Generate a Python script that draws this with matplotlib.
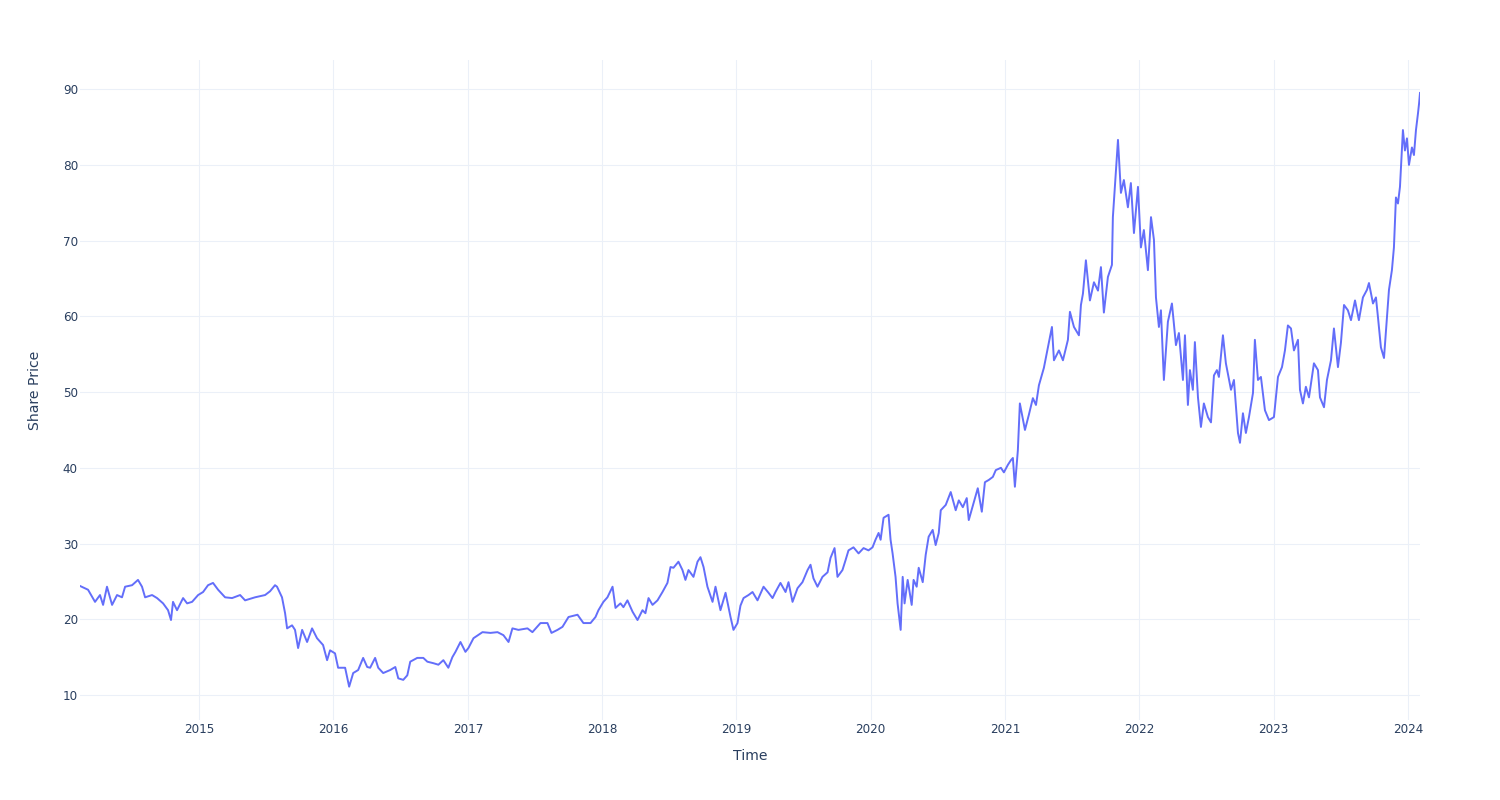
import matplotlib
matplotlib.use("Agg")
import matplotlib.pyplot as plt
import pandas as pd
import numpy as np

# Dates as decimal years, values = share price
decimal_years = [
    2014.113, 2014.173, 2014.225, 2014.262, 2014.285, 2014.314, 2014.352, 2014.389, 2014.426, 2014.449,
    2014.501, 2014.545, 2014.575, 2014.598, 2014.650, 2014.687, 2014.732, 2014.769, 2014.791, 2014.806,
    2014.836, 2014.881, 2014.911, 2014.948, 2014.993, 2015.030, 2015.067, 2015.104, 2015.142, 2015.194,
    2015.246, 2015.306, 2015.343, 2015.417, 2015.492, 2015.529, 2015.566, 2015.581, 2015.618, 2015.641,
    2015.656, 2015.693, 2015.715, 2015.738, 2015.768, 2015.805, 2015.842, 2015.879, 2015.924, 2015.954,
    2015.976, 2016.013, 2016.036, 2016.088, 2016.118, 2016.148, 2016.185, 2016.222, 2016.252, 2016.274,
    2016.311, 2016.334, 2016.371, 2016.423, 2016.461, 2016.483, 2016.520, 2016.550, 2016.572, 2016.624,
    2016.669, 2016.699, 2016.744, 2016.781, 2016.818, 2016.855, 2016.885, 2016.908, 2016.945, 2016.982,
    2017.004, 2017.042, 2017.109, 2017.168, 2017.221, 2017.265, 2017.303, 2017.332, 2017.377, 2017.444,
    2017.481, 2017.541, 2017.593, 2017.623, 2017.668, 2017.705, 2017.750, 2017.817, 2017.861, 2017.914,
    2017.951, 2017.973, 2018.010, 2018.040, 2018.078, 2018.100, 2018.137, 2018.159, 2018.189, 2018.227,
    2018.264, 2018.301, 2018.323, 2018.346, 2018.376, 2018.413, 2018.450, 2018.487, 2018.510, 2018.532,
    2018.569, 2018.599, 2018.621, 2018.644, 2018.681, 2018.711, 2018.733, 2018.756, 2018.785, 2018.823,
    2018.845, 2018.882, 2018.920, 2018.957, 2018.979, 2019.009, 2019.031, 2019.054, 2019.091, 2019.121,
    2019.158, 2019.203, 2019.240, 2019.270, 2019.292, 2019.329, 2019.367, 2019.389, 2019.419, 2019.456,
    2019.493, 2019.531, 2019.553, 2019.575, 2019.605, 2019.642, 2019.680, 2019.702, 2019.732, 2019.754,
    2019.791, 2019.814, 2019.836, 2019.873, 2019.911, 2019.948, 2019.985, 2020.015, 2020.037, 2020.060,
    2020.075, 2020.097, 2020.134, 2020.149, 2020.164, 2020.186, 2020.201, 2020.224, 2020.239, 2020.253,
    2020.276, 2020.306, 2020.320, 2020.343, 2020.358, 2020.388, 2020.410, 2020.432, 2020.462, 2020.484,
    2020.507, 2020.522, 2020.559, 2020.596, 2020.633, 2020.656, 2020.686, 2020.715, 2020.730, 2020.768,
    2020.797, 2020.827, 2020.850, 2020.879, 2020.909, 2020.931, 2020.969, 2020.991, 2021.021, 2021.043,
    2021.058, 2021.073, 2021.095, 2021.110, 2021.148, 2021.177, 2021.207, 2021.230, 2021.252, 2021.289,
    2021.319, 2021.349, 2021.364, 2021.401, 2021.431, 2021.468, 2021.483, 2021.513, 2021.550, 2021.565,
    2021.580, 2021.602, 2021.632, 2021.662, 2021.692, 2021.714, 2021.736, 2021.766, 2021.796, 2021.803,
    2021.826, 2021.841, 2021.863, 2021.885, 2021.915, 2021.937, 2021.960, 2021.990, 2022.012, 2022.034,
    2022.064, 2022.087, 2022.109, 2022.124, 2022.146, 2022.161, 2022.183, 2022.213, 2022.243, 2022.273,
    2022.295, 2022.325, 2022.340, 2022.362, 2022.377, 2022.399, 2022.414, 2022.437, 2022.459, 2022.481,
    2022.511, 2022.534, 2022.556, 2022.578, 2022.593, 2022.623, 2022.645, 2022.683, 2022.705, 2022.735,
    2022.750, 2022.772, 2022.794, 2022.817, 2022.847, 2022.861, 2022.884, 2022.906, 2022.936, 2022.966,
    2023.003, 2023.033, 2023.063, 2023.085, 2023.107, 2023.130, 2023.152, 2023.182, 2023.197, 2023.219,
    2023.241, 2023.264, 2023.301, 2023.331, 2023.346, 2023.376, 2023.398, 2023.428, 2023.450, 2023.480,
    2023.502, 2023.525, 2023.554, 2023.577, 2023.607, 2023.636, 2023.666, 2023.696, 2023.711, 2023.741,
    2023.763, 2023.778, 2023.800, 2023.823, 2023.845, 2023.860, 2023.882, 2023.897, 2023.912, 2023.927,
    2023.942, 2023.957, 2023.964, 2023.979, 2023.994, 2024.009, 2024.031, 2024.046, 2024.061, 2024.076,
    2024.084, 2024.091,
]

share_price = [
    24.4, 23.9, 22.3, 23.2, 21.9, 24.3, 21.9, 23.2, 22.9, 24.3,
    24.5, 25.2, 24.3, 22.9, 23.2, 22.8, 22.1, 21.2, 19.9, 22.3,
    21.2, 22.8, 22.1, 22.3, 23.2, 23.6, 24.5, 24.8, 23.9, 22.9,
    22.8, 23.2, 22.5, 22.9, 23.2, 23.7, 24.5, 24.3, 22.9, 20.8,
    18.8, 19.2, 18.6, 16.2, 18.6, 17.0, 18.8, 17.5, 16.6, 14.6,
    15.9, 15.5, 13.6, 13.6, 11.1, 12.9, 13.3, 14.9, 13.7, 13.6,
    14.9, 13.6, 12.9, 13.3, 13.7, 12.2, 12.0, 12.6, 14.4, 14.9,
    14.9, 14.4, 14.2, 14.0, 14.6, 13.6, 15.0, 15.7, 17.0, 15.7,
    16.2, 17.5, 18.3, 18.2, 18.3, 17.9, 17.0, 18.8, 18.6, 18.8,
    18.3, 19.5, 19.5, 18.2, 18.6, 19.0, 20.3, 20.6, 19.5, 19.5,
    20.3, 21.2, 22.3, 22.9, 24.3, 21.5, 22.1, 21.6, 22.5, 21.0,
    19.9, 21.2, 20.8, 22.8, 21.9, 22.5, 23.6, 24.8, 26.9, 26.8,
    27.6, 26.5, 25.2, 26.5, 25.6, 27.6, 28.2, 26.9, 24.3, 22.3,
    24.3, 21.2, 23.5, 20.3, 18.6, 19.5, 21.8, 22.8, 23.2, 23.6,
    22.5, 24.3, 23.5, 22.8, 23.6, 24.8, 23.6, 24.9, 22.3, 24.1,
    24.9, 26.5, 27.2, 25.4, 24.3, 25.6, 26.2, 28.1, 29.4, 25.6,
    26.5, 27.8, 29.1, 29.5, 28.7, 29.4, 29.1, 29.5, 30.5, 31.4,
    30.5, 33.4, 33.8, 30.5, 28.7, 25.6, 22.1, 18.6, 25.6, 22.1,
    25.2, 21.9, 25.2, 24.3, 26.8, 24.9, 28.5, 30.9, 31.8, 29.8,
    31.4, 34.4, 35.1, 36.8, 34.4, 35.7, 34.8, 36.0, 33.1, 35.5,
    37.3, 34.2, 38.1, 38.4, 38.8, 39.7, 40.0, 39.4, 40.4, 41.0,
    41.3, 37.5, 42.3, 48.5, 45.0, 47.0, 49.2, 48.3, 50.9, 53.2,
    55.9, 58.6, 54.2, 55.5, 54.2, 56.9, 60.6, 58.6, 57.5, 61.5,
    63.0, 67.4, 62.1, 64.5, 63.4, 66.5, 60.5, 65.2, 66.8, 73.1,
    79.3, 83.3, 76.3, 78.0, 74.4, 77.6, 71.0, 77.1, 69.1, 71.4,
    66.1, 73.1, 70.1, 62.5, 58.6, 60.8, 51.6, 59.3, 61.7, 56.2,
    57.8, 51.6, 57.5, 48.3, 52.9, 50.3, 56.6, 49.3, 45.4, 48.5,
    46.7, 46.0, 52.2, 52.9, 52.0, 57.5, 53.8, 50.3, 51.6, 44.6,
    43.3, 47.2, 44.6, 46.7, 49.9, 56.9, 51.6, 52.0, 47.6, 46.3,
    46.7, 52.0, 53.3, 55.5, 58.8, 58.4, 55.5, 56.9, 50.3, 48.5,
    50.7, 49.3, 53.8, 52.9, 49.3, 48.0, 51.6, 54.2, 58.4, 53.3,
    56.5, 61.5, 60.8, 59.5, 62.1, 59.5, 62.5, 63.5, 64.4, 61.7,
    62.5, 59.9, 55.9, 54.5, 59.9, 63.5, 66.1, 69.1, 75.7, 74.9,
    77.1, 82.3, 84.6, 81.9, 83.5, 80.0, 82.3, 81.3, 84.6, 86.8,
    88.1, 89.5,
]

y_ticks = [10, 20, 30, 40, 50, 60, 70, 80, 90]
x_tick_years = [2015, 2016, 2017, 2018, 2019, 2020, 2021, 2022, 2023, 2024]
x_title = "Time"
y_title = "Share Price"


def to_datetime(dy):
    year = int(np.floor(dy))
    start = pd.Timestamp(year=year, month=1, day=1)
    end = pd.Timestamp(year=year + 1, month=1, day=1)
    return start + (end - start) * (dy - year)


dates = [to_datetime(d) for d in decimal_years]

plt.rcParams['font.family'] = ['DejaVu Sans']

fig = plt.figure(figsize=(15, 8), dpi=100)
fig.patch.set_facecolor('white')
ax = fig.add_axes([80 / 1500, 80 / 800, 1340 / 1500, 660 / 800])
ax.set_facecolor('white')

ax.plot(dates, share_price, color='#636efa', linewidth=1.4, zorder=3)

ax.set_xlim(dates[0], dates[-1])
ax.set_ylim(6.7, 93.85)

ax.set_yticks(y_ticks)
ax.set_yticklabels([str(v) for v in y_ticks])
ax.set_xticks([pd.Timestamp(year=y, month=1, day=1) for y in x_tick_years])
ax.set_xticklabels([str(y) for y in x_tick_years])

ax.grid(True, color='#EBF0F8', linewidth=0.75, zorder=0)
ax.set_axisbelow(True)
for s in ax.spines.values():
    s.set_visible(False)
ax.tick_params(axis='both', length=0, labelsize=8.64, labelcolor='#2a3f5f')
ax.tick_params(axis='y', pad=1.5)
ax.tick_params(axis='x', pad=2.5)

fig.text(750 / 1500, 1 - 756 / 800, x_title, ha='center', va='center',
         fontsize=10.08, color='#2a3f5f')
fig.text(35 / 1500, 1 - 390 / 800, y_title, ha='center', va='center',
         rotation=90, fontsize=10.08, color='#2a3f5f')

fig.savefig('out.png', dpi=100, facecolor='white')
